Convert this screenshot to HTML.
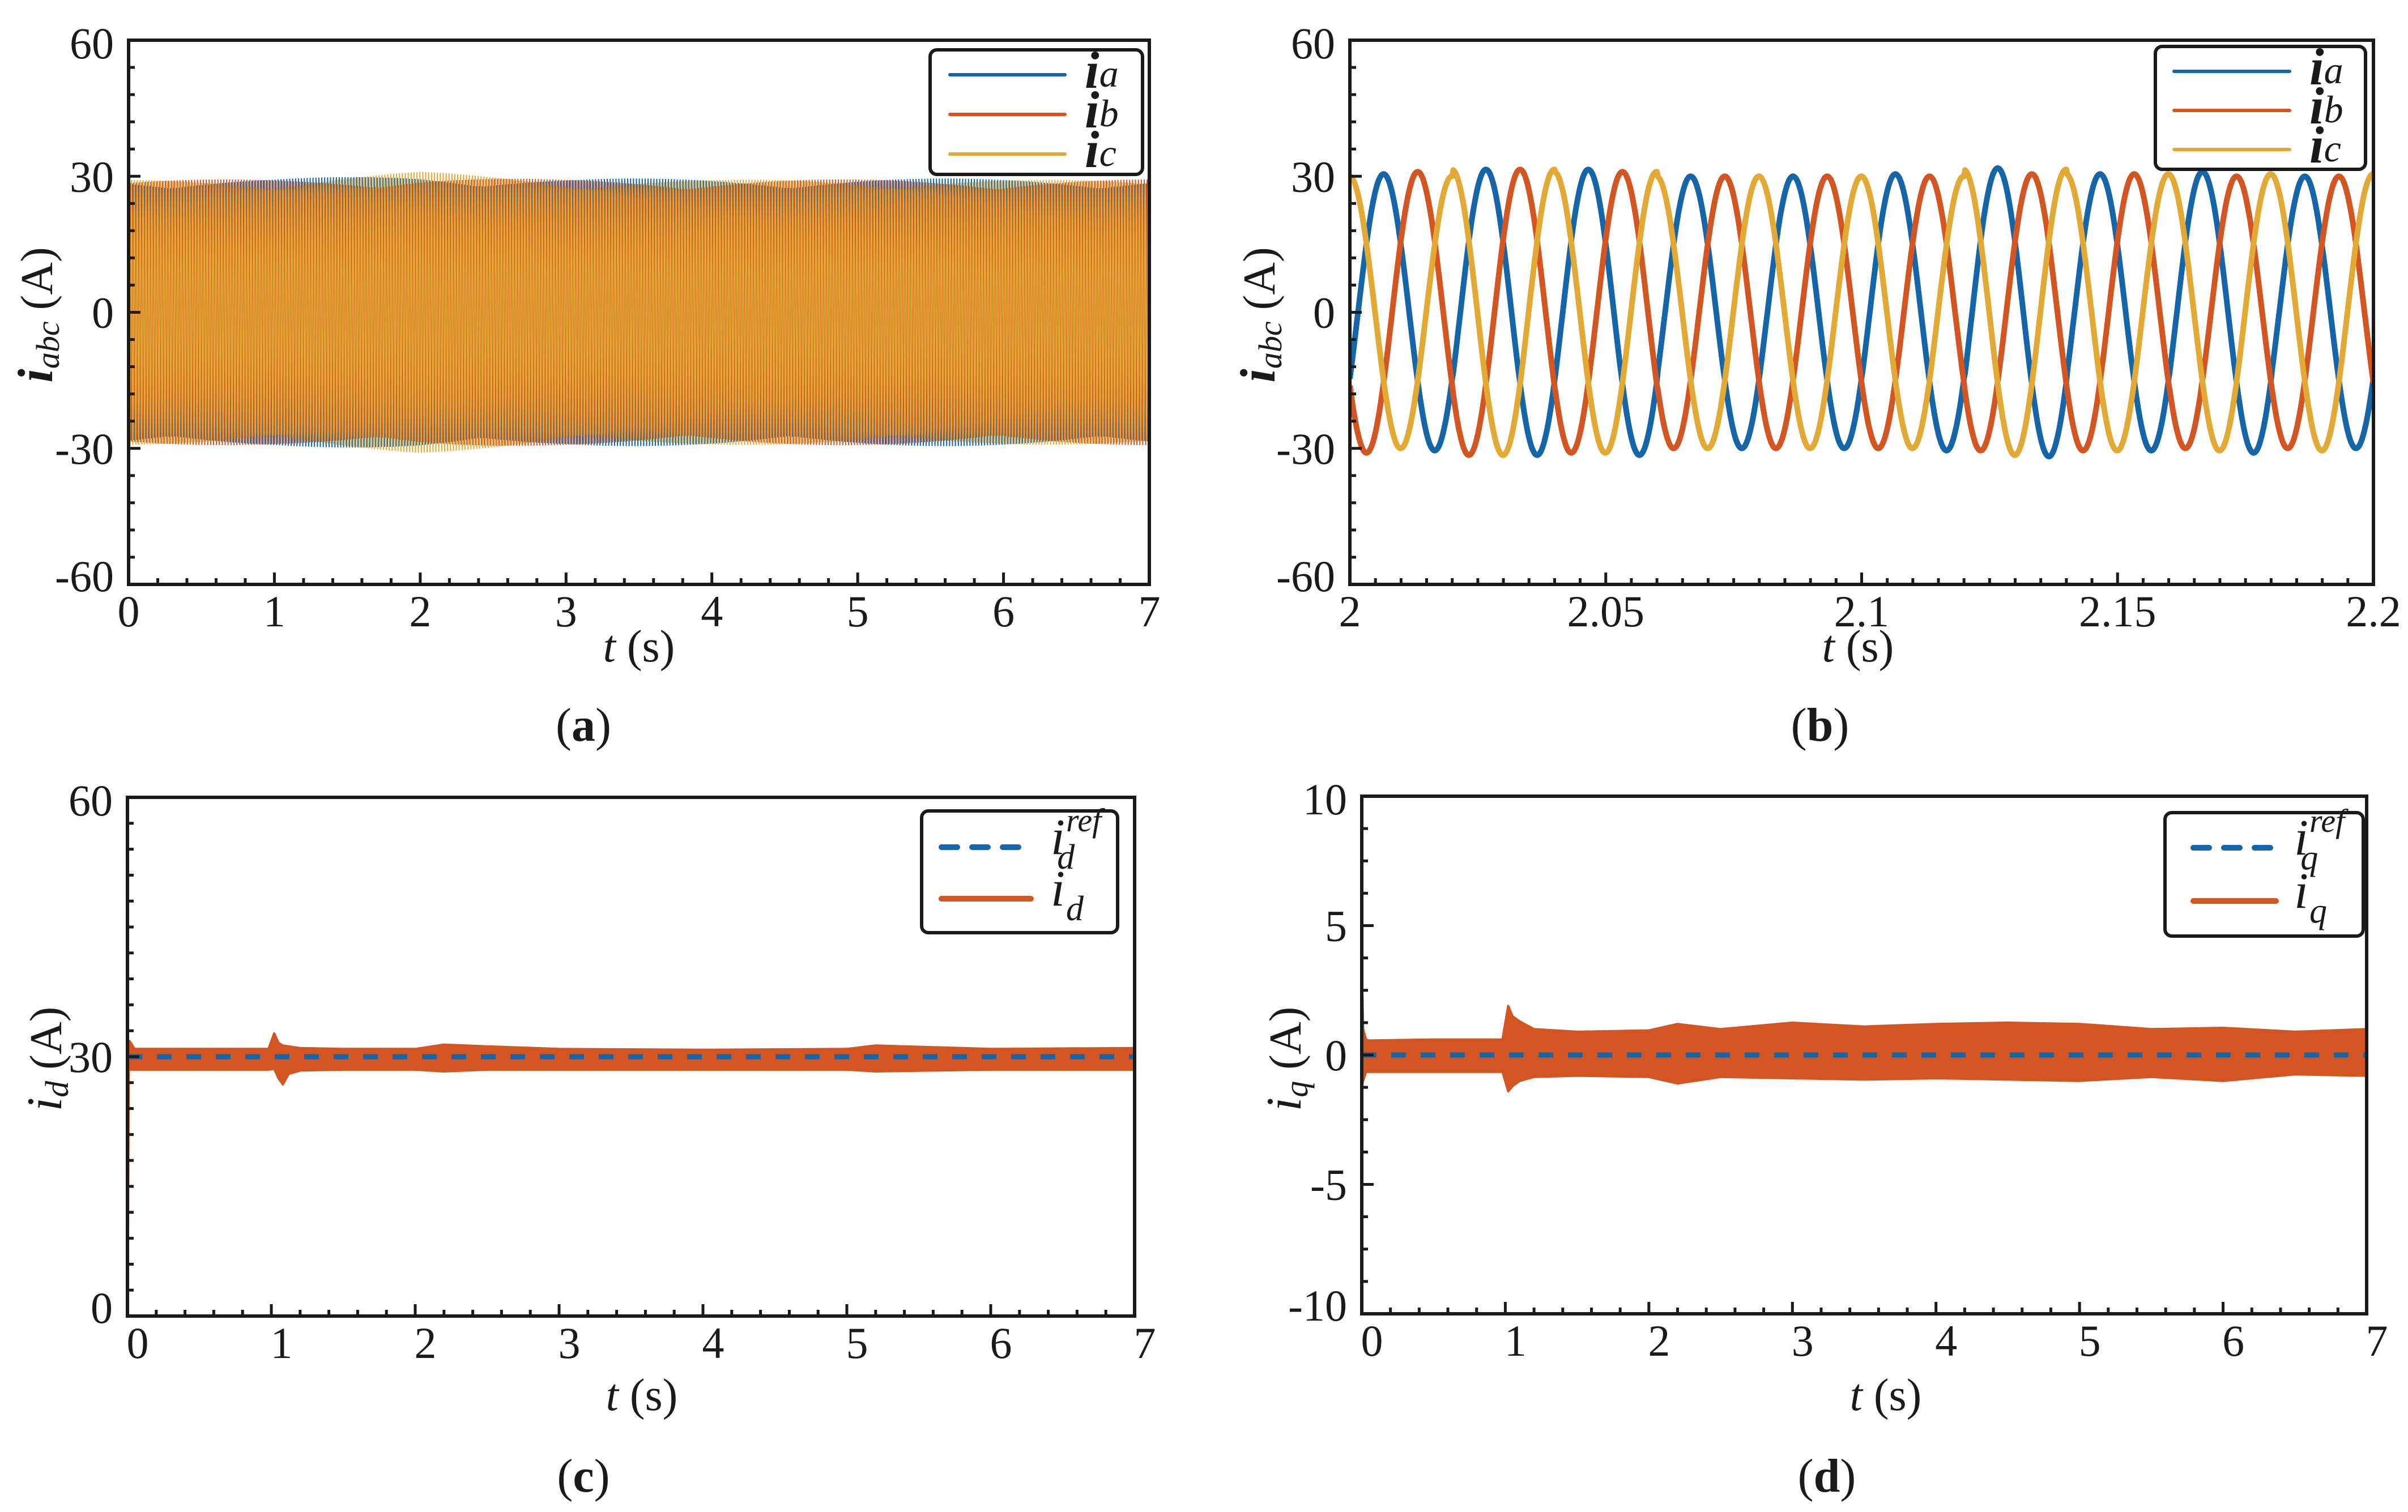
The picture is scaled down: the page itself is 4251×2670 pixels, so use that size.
<!DOCTYPE html>
<html><head><meta charset="utf-8"><title>Current waveforms</title>
<style>
html,body{margin:0;padding:0;background:#fff;}
svg{display:block;}
text{font-family:"Liberation Serif","Times New Roman",serif;fill:#1a1a1a;}
</style></head>
<body>
<svg id="fig" xmlns="http://www.w3.org/2000/svg" width="4251" height="2670" viewBox="0 0 4251 2670">
<rect x="0" y="0" width="4251" height="2670" fill="#fff"/>
<g id="layer"></g>
</svg>
<script>
// ---------- data ----------
// panel a: amplitudes per second (A)
const aSeconds = [0,1,2,3,4,5,6,7];
const aAmpA = [29.5,29.5,30.2,29.5,29.5,29.5,29.5,29.5];
const aAmpB = [29.3,29.3,29.8,29.3,29.3,29.3,29.3,29.3];
const aAmpC = [29.2,29.2,31.0,29.3,29.2,29.4,29.2,29.2];
// panel b: peak amplitude per 20 ms cycle
const bAmpA = [30.5,31.5,31.5,30.0,30.0,30.5,31.8,30.5,31.0,30.0];
const bAmpB = [31.0,31.5,31.0,30.0,30.0,30.0,30.5,30.5,30.0,30.0];
const bAmpC = [30.0,31.5,31.0,30.0,30.0,30.0,31.5,30.5,30.5,30.5];
const freqHz = 50;
const phaseA = -0.5;
// panel c: i_d envelope
const cStartT = [0,0.004,0.008,0.015];
const cStartV = [0,18,31.8,30.6];
const cT  = [0.015,0.05,0.5,0.98,1.02,1.05,1.08,1.12,1.2,1.5,2.0,2.2,2.5,3.0,4.0,5.0,5.2,5.6,6.0,7.0];
const cUp = [31.8,30.9,30.9,30.9,32.7,31.6,31.3,31.2,31.0,30.9,30.9,31.4,31.2,30.9,30.8,30.9,31.3,31.1,30.9,31.0];
const cLo = [28.5,28.5,28.5,28.5,28.6,27.5,26.8,28.0,28.4,28.5,28.5,28.3,28.5,28.5,28.5,28.5,28.3,28.4,28.5,28.5];
const cRef = 30;
// panel d: i_q envelope
const dT  = [0,0.01,0.03,0.05,0.5,0.98,1.02,1.05,1.1,1.2,1.5,2.0,2.2,2.5,3.0,3.5,4.0,4.5,5.0,5.5,6.0,6.5,7.0];
const dUp = [3.6,1.0,0.6,0.56,0.6,0.6,1.9,1.5,1.3,1.0,0.9,0.95,1.2,1.0,1.25,1.1,1.2,1.25,1.2,1.0,1.05,0.9,1.0];
const dLo = [-1.2,-1.0,-0.65,-0.65,-0.65,-0.65,-1.4,-1.2,-1.0,-0.85,-0.8,-0.85,-1.1,-0.85,-0.9,-0.95,-0.9,-0.95,-1.0,-0.85,-1.0,-0.75,-0.8];
const dRef = 0;
// ticks
const ticksA_x = [0,1,2,3,4,5,6,7];
const labelsA_x = ["0","1","2","3","4","5","6","7"];
const ticksA_y = [60,30,0,-30,-60];
const labelsA_y = ["60","30","0","-30","-60"];
const ticksB_x = [2,2.05,2.1,2.15,2.2];
const labelsB_x = ["2","2.05","2.1","2.15","2.2"];
const ticksC_y = [60,30,0];
const labelsC_y = ["60","30","0"];
const ticksD_y = [10,5,0,-5,-10];
const labelsD_y = ["10","5","0","-5","-10"];

// ---------- drawing ----------
const NS = "http://www.w3.org/2000/svg";
const layer = document.getElementById('layer');
const BLUE = "#1565a9", ORANGE = "#d25522", YELLOW = "#e2a935";
function el(tag, attrs, parent){
  const e = document.createElementNS(NS, tag);
  for (const k in attrs) e.setAttribute(k, attrs[k]);
  (parent||layer).appendChild(e);
  return e;
}
function scale(d0,d1,r0,r1){ return v => r0 + (v-d0)/(d1-d0)*(r1-r0); }
function interp(ts, vs, t){
  if (t<=ts[0]) return vs[0];
  for (let i=1;i<ts.length;i++){ if (t<=ts[i]){ const f=(t-ts[i-1])/(ts[i]-ts[i-1]); return vs[i-1]+f*(vs[i]-vs[i-1]); } }
  return vs[vs.length-1];
}

function axes(P, name, xs, ys, xt, xl, xMinor, yt, yl, yMinor, xLabelShift){
  const g = el('g', {});
  
  
  for (let i=0;i<xt.length-1;i++){
    for (let k=1;k<xMinor;k++){
      const v = xt[i] + (xt[i+1]-xt[i])*k/xMinor;
      const x = xs(v);
      const t = el('line',{x1:x,x2:x,y1:P.y1,y2:P.y1-11,stroke:'#1a1a1a','stroke-width':5},g);
      
      
    }
  }
  for (let i=0;i<yt.length-1;i++){
    for (let k=1;k<yMinor;k++){
      const v = yt[i] + (yt[i+1]-yt[i])*k/yMinor;
      const y = ys(v);
      const t = el('line',{x1:P.x0,x2:P.x0+11,y1:y,y2:y,stroke:'#1a1a1a','stroke-width':5},g);
      
      
    }
  }
  xt.forEach((v,i)=>{
    const x = xs(v);
    const t = el('line',{x1:x,x2:x,y1:P.y1,y2:P.y1-21,stroke:'#1a1a1a','stroke-width':5},g);
    
    
    const tx = el('text',{x:x+(xLabelShift||0),y:P.y1+74,'font-size':78,'text-anchor':'middle'},g);
    tx.textContent = xl[i];
    
    
  });
  yt.forEach((v,i)=>{
    const y = ys(v);
    const t = el('line',{x1:P.x0,x2:P.x0+21,y1:y,y2:y,stroke:'#1a1a1a','stroke-width':5},g);
    
    
    let ty = y + 27;
    if (i===yt.length-1) ty = y + 12;
    if (i===0) ty = y + 32;
    const tx = el('text',{x:P.x0-26,y:ty,'font-size':78,'text-anchor':'end'},g);
    tx.textContent = yl[i];
    
    
  });
  const box = el('rect',{x:P.x0,y:P.y0,width:P.x1-P.x0,height:P.y1-P.y0,fill:'none',stroke:'#1a1a1a','stroke-width':6});
  
  
}

function clip(P, id){
  const defs = el('defs',{});
  const cp = el('clipPath',{id:id},defs);
  el('rect',{x:P.x0,y:P.y0,width:P.x1-P.x0,height:P.y1-P.y0},cp);
  return 'url(#'+id+')';
}

// ----- Panel A -----
const PA = {x0:227,x1:2029,y0:71,y1:1032};
const axs = scale(0,7,PA.x0,PA.x1), ays = scale(-60,60,PA.y1,PA.y0);
const cpa = clip(PA,'clipA');
[[aAmpA,0,BLUE,'series-ia'],[aAmpB,-2*Math.PI/3,ORANGE,'series-ib'],[aAmpC,2*Math.PI/3,YELLOW,'series-ic']].forEach(s=>{
  let d = '';
  for (let t=0;t<=7;t+=0.0025){
    const amp = interp(aSeconds, s[0], t);
    const v = amp*Math.sin(2*Math.PI*freqHz*t + phaseA + s[1] + 0.37*t);
    d += (d?'L':'M') + axs(t).toFixed(1) + ',' + ays(v).toFixed(1);
  }
  const p = el('path',{d:d,fill:'none',stroke:s[2],'stroke-width':2.0,'clip-path':cpa});
  
  
});
axes(PA,'panel-a',axs,ays,ticksA_x,labelsA_x,5,ticksA_y,labelsA_y,5,0);

// ----- Panel B -----
const PB = {x0:2383,x1:4190,y0:71,y1:1032};
const bxs = scale(2,2.2,PB.x0,PB.x1), bys = scale(-60,60,PB.y1,PB.y0);
const cpb = clip(PB,'clipB');
[[bAmpA,0,BLUE,'series-ia'],[bAmpB,-2*Math.PI/3,ORANGE,'series-ib'],[bAmpC,2*Math.PI/3,YELLOW,'series-ic']].forEach(s=>{
  let d = '';
  for (let t=2;t<=2.2001;t+=0.0002){
    const idx = Math.min(s[0].length-1, Math.floor((t-2)/0.02));
    const v = s[0][idx]*Math.sin(2*Math.PI*freqHz*(t-2) + phaseA + s[1]);
    d += (d?'L':'M') + bxs(t).toFixed(1) + ',' + bys(v).toFixed(1);
  }
  const p = el('path',{d:d,fill:'none',stroke:s[2],'stroke-width':10,'stroke-linejoin':'round','clip-path':cpb});
  
  
});
axes(PB,'panel-b',bxs,bys,ticksB_x,labelsB_x,10,ticksA_y,labelsA_y,5,0);

// ----- Panel C -----
const PC = {x0:225,x1:2003,y0:1408,y1:2324};
const cxs = scale(0,7,PC.x0,PC.x1), cys = scale(0,60,PC.y1,PC.y0);
const cpc = clip(PC,'clipC');
(function(){
  let d = '';
  cStartT.forEach((t,i)=>{ d += (d?'L':'M') + cxs(t).toFixed(1)+','+cys(cStartV[i]).toFixed(1); });
  const s = el('path',{d:d,fill:'none',stroke:ORANGE,'stroke-width':5,'clip-path':cpc});
  
  
  let pd = '';
  cT.forEach((t,i)=>{ pd += (pd?'L':'M') + cxs(t).toFixed(1)+','+cys(cUp[i]).toFixed(1); });
  for (let i=cT.length-1;i>=0;i--) pd += 'L' + cxs(cT[i]).toFixed(1)+','+cys(cLo[i]).toFixed(1);
  pd += 'Z';
  const b = el('path',{d:pd,fill:ORANGE,stroke:ORANGE,'stroke-width':4,'stroke-linejoin':'round','clip-path':cpc});
  
  
  const r = el('line',{x1:cxs(0),x2:cxs(7),y1:cys(cRef),y2:cys(cRef),stroke:BLUE,'stroke-width':9,'stroke-dasharray':'26 26','clip-path':cpc});
  
  
})();
axes(PC,'panel-c',cxs,cys,ticksA_x,labelsA_x,5,ticksC_y,labelsC_y,10,18);

// ----- Panel D -----
const PD = {x0:2404,x1:4178,y0:1406,y1:2320};
const dxs = scale(0,7,PD.x0,PD.x1), dys = scale(-10,10,PD.y1,PD.y0);
const cpd = clip(PD,'clipD');
(function(){
  let pd = '';
  dT.forEach((t,i)=>{ pd += (pd?'L':'M') + dxs(t).toFixed(1)+','+dys(dUp[i]).toFixed(1); });
  for (let i=dT.length-1;i>=0;i--) pd += 'L' + dxs(dT[i]).toFixed(1)+','+dys(dLo[i]).toFixed(1);
  pd += 'Z';
  const b = el('path',{d:pd,fill:ORANGE,stroke:ORANGE,'stroke-width':4,'stroke-linejoin':'round','clip-path':cpd});
  
  
  const r = el('line',{x1:dxs(0),x2:dxs(7),y1:dys(dRef),y2:dys(dRef),stroke:BLUE,'stroke-width':9,'stroke-dasharray':'26 26','clip-path':cpd});
  
  
})();
axes(PD,'panel-d',dxs,dys,ticksA_x,labelsA_x,5,ticksD_y,labelsD_y,4,18);

// ----- Legends -----
function legendBox(x,y,w,h,name){
  const r = el('rect',{x:x,y:y,width:w,height:h,rx:12,fill:'#fff',stroke:'#1a1a1a','stroke-width':6});
  
  
}
function legendLine(x1,x2,y,color,dash,w,name){
  const l = el('line',{x1:x1,x2:x2,y1:y,y2:y,stroke:color,'stroke-width':w,'stroke-linecap':'round'});
  if (dash) l.setAttribute('stroke-dasharray',dash);
  
  
}
function legendLabelBold(x,y,sub,name){
  const t = el('text',{x:x,y:y,'font-size':92});
  
  
  const a = el('tspan',{'font-style':'italic','font-weight':'bold'},t); a.textContent='i';
  const b = el('tspan',{'font-style':'italic','font-size':68,dy:-2},t); b.textContent=sub;
}
function legendLabelRef(x,y,sub,sup,name){
  const t = el('text',{x:x,y:y,'font-size':90,'font-style':'italic'});
  
  
  const a = el('tspan',{},t); a.textContent='i';
  if (sup){
    const s = el('tspan',{'font-size':58,dy:-40,dx:2},t); s.textContent=sup;
    const b = el('tspan',{'font-size':62,dy:66,dx:-78},t); b.textContent=sub;
  } else {
    const b = el('tspan',{'font-size':62,dy:26,dx:2},t); b.textContent=sub;
  }
}
legendBox(1642,88,375,220,'panel-a-legend');
legendLine(1677,1880,132,BLUE,null,6,'legend-ia-line');
legendLine(1677,1880,202,ORANGE,null,6,'legend-ib-line');
legendLine(1677,1880,272,YELLOW,null,6,'legend-ic-line');
legendLabelBold(1915,155,'a','legend-ia-label');
legendLabelBold(1915,225,'b','legend-ib-label');
legendLabelBold(1915,295,'c','legend-ic-label');
legendBox(3805,82,371,217,'panel-b-legend');
legendLine(3838,4042,126,BLUE,null,6,'legend-ia-line');
legendLine(3838,4042,195,ORANGE,null,6,'legend-ib-line');
legendLine(3838,4042,264,YELLOW,null,6,'legend-ic-line');
legendLabelBold(4077,149,'a','legend-ia-label');
legendLabelBold(4077,218,'b','legend-ib-label');
legendLabelBold(4077,287,'c','legend-ic-label');
legendBox(1627,1432,346,215,'panel-c-legend');
legendLine(1662,1820,1496,BLUE,'28 26',10,'legend-idref-line');
legendLine(1662,1820,1587,ORANGE,null,10,'legend-id-line');
legendLabelRef(1855,1508,'d','ref','legend-idref-label');
legendLabelRef(1855,1599,'d',null,'legend-id-label');
legendBox(3822,1435,350,218,'panel-d-legend');
legendLine(3872,4018,1497,BLUE,'28 26',10,'legend-iqref-line');
legendLine(3872,4018,1591,ORANGE,null,10,'legend-iq-line');
legendLabelRef(4050,1509,'q','ref','legend-iqref-label');
legendLabelRef(4050,1603,'q',null,'legend-iq-label');

// ----- Axis titles -----
function xTitle(cx,y,name){
  const t = el('text',{x:cx,y:y,'font-size':80,'text-anchor':'middle'});
  
  
  const a = el('tspan',{'font-style':'italic'},t); a.textContent='t';
  const b = el('tspan',{},t); b.textContent=' (s)';
}
xTitle(1128,1168,'panel-a-x-axis-title');
xTitle(3280,1168,'panel-b-x-axis-title');
xTitle(1133,2490,'panel-c-x-axis-title');
xTitle(3329,2490,'panel-d-x-axis-title');

function yTitle(cx,cy,sub,bold,name){
  const t = el('text',{x:0,y:0,'font-size':80,'text-anchor':'middle',transform:'translate('+cx+','+cy+') rotate(-90)'});
  
  
  const a = el('tspan',{'font-style':'italic','font-weight':bold?'bold':'normal','font-size':88},t); a.textContent='i';
  const b = el('tspan',{'font-style':'italic','font-size':58,dy:12},t); b.textContent=sub;
  const c = el('tspan',{dy:-12},t); c.textContent= bold ? '  (A)' : ' (A)';
}
yTitle(92,556,'abc',true,'panel-a-y-axis-title');
yTitle(2250,556,'abc',true,'panel-b-y-axis-title');
yTitle(108,1870,'d',false,'panel-c-y-axis-title');
yTitle(2296,1870,'q',false,'panel-d-y-axis-title');

// ----- Captions -----
function caption(cx,y,letter,name){
  const t = el('text',{x:cx,y:y,'font-size':84,'text-anchor':'middle'});
  
  
  const a = el('tspan',{},t); a.textContent='(';
  const b = el('tspan',{'font-weight':'bold'},t); b.textContent=letter;
  const c = el('tspan',{},t); c.textContent=')';
}
caption(1030,1308,'a','caption-a');
caption(3213,1308,'b','caption-b');
caption(1030,2634,'c','caption-c');
caption(3225,2634,'d','caption-d');
</script>
</body></html>
